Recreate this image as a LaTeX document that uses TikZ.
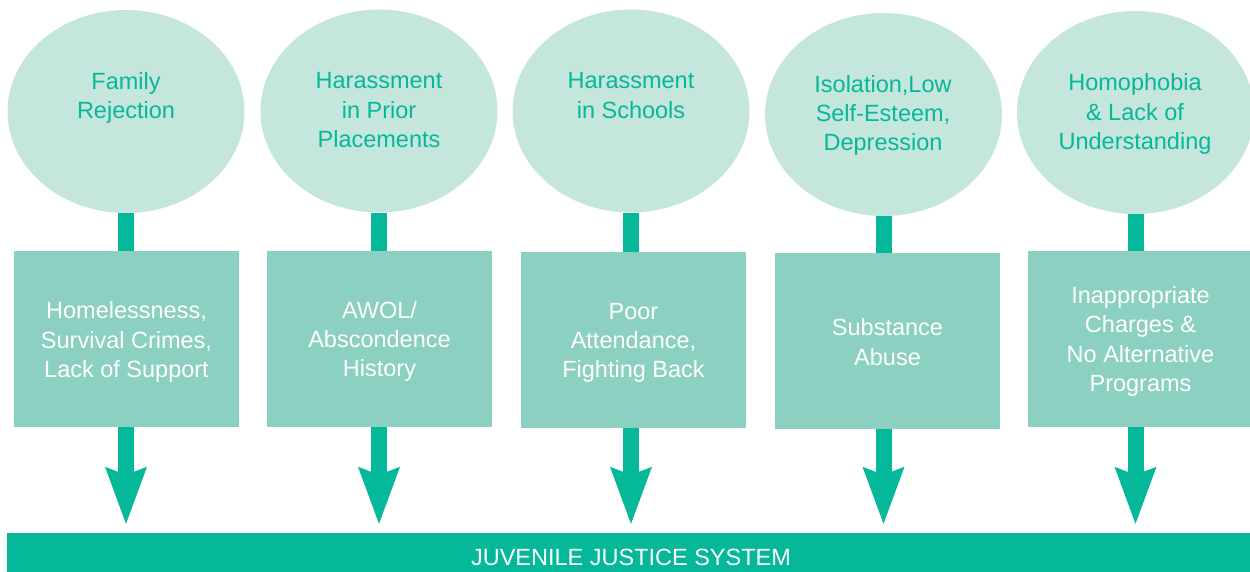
\documentclass[tikz,border=0pt]{standalone}
\usepackage{fontspec}
\setmainfont{Liberation Sans}
\usetikzlibrary{shapes.geometric,arrows.meta}
\definecolor{tealdark}{RGB}{5,184,154}
\definecolor{boxfill}{RGB}{139,208,192}
\definecolor{ellfill}{RGB}{196,230,220}
\begin{document}
\begin{tikzpicture}[x=1pt,y=-1pt,
  bubble/.style={ellipse, fill=ellfill, minimum width=237pt, minimum height=203pt, inner sep=0pt},
  bubtext/.style={anchor=north, align=center, text=tealdark, inner sep=0pt,
    font=\fontsize{23.5}{29.3}\selectfont},
  causebox/.style={rectangle, fill=boxfill, minimum width=225pt, minimum height=176pt,
    inner sep=0pt},
  boxtext/.style={align=center, text=white, inner sep=0pt,
    font=\fontsize{23.5}{29.3}\selectfont},
  barbox/.style={rectangle, fill=tealdark, minimum width=1248pt, minimum height=48pt,
    inner sep=0pt, text=white, font=\fontsize{23.5}{28}\selectfont},
  stemline/.style={draw=tealdark, line width=16pt},
  flowarrow/.style={draw=tealdark, line width=16pt,
    -{Stealth[length=57pt,width=42pt,inset=8pt,line width=0pt]}}
]
\useasboundingbox (0,0) rectangle (1250,571);
\clip (0,0) rectangle (1250,571);

% ellipses
\node[bubble] (e1) at (126,111.5) {};
\node[bubble] (e2) at (379,111) {};
\node[bubble] (e3) at (631,111) {};
\node[bubble] (e4) at (883.5,114.5) {};
\node[bubble] (e5) at (1135.5,112.5) {};

\node[bubtext] (e1t) at (126,72) {Family\\Rejection};
\node[bubtext] (e2t) at (379,72.5) {Harassment\\in Prior\\Placements};
\node[bubtext] (e3t) at (631,72.5) {Harassment\\in Schools};
\node[bubtext] (e4t) at (883,75) {Isolation,Low\\Self-Esteem,\\Depression};
\node[bubtext] (e5t) at (1135,73.5) {Homophobia\\\& Lack of\\Understanding};

% boxes
\node[causebox] (b1) at (126.5,339) {};
\node[causebox] (b2) at (379.5,339) {};
\node[causebox] (b3) at (633.5,340) {};
\node[causebox] (b4) at (887.5,341) {};
\node[causebox] (b5) at (1140.5,339) {};

\node[boxtext] (b1t) at ([yshift=-3pt]b1.center) {Homelessness,\\Survival Crimes,\\Lack of Support};
\node[boxtext] (b2t) at ([yshift=-2.5pt]b2.center) {AWOL/\\Abscondence\\History};
\node[boxtext] (b3t) at ([yshift=-3pt]b3.center) {Poor\\Attendance,\\Fighting Back};
\node[boxtext] (b4t) at ([yshift=-1pt]b4.center) {Substance\\Abuse};
\node[boxtext] (b5t) at ([yshift=-2.5pt]b5.center) {Inappropriate\\Charges \&\\No Alternative\\Programs};

% bar
\node[barbox] (jjs) at (631,557) {JUVENILE JUSTICE SYSTEM};

% stems
\draw[stemline] (e1.south) -- (e1.south |- b1.north);
\draw[stemline] (e2.south) -- (e2.south |- b2.north);
\draw[stemline] (e3.south) -- (e3.south |- b3.north);
\draw[stemline] (e4.south) -- (e4.south |- b4.north);
\draw[stemline] (e5.south) -- (e5.south |- b5.north);

% arrows
\coordinate (t1) at ([yshift=9pt]e1.south |- jjs.north);
\coordinate (t2) at ([yshift=9pt]e2.south |- jjs.north);
\coordinate (t3) at ([yshift=9pt]e3.south |- jjs.north);
\coordinate (t4) at ([yshift=9pt]e4.south |- jjs.north);
\coordinate (t5) at ([yshift=9pt]e5.south |- jjs.north);
\draw[flowarrow] (e1.south |- b1.south) -- (t1);
\draw[flowarrow] (e2.south |- b2.south) -- (t2);
\draw[flowarrow] (e3.south |- b3.south) -- (t3);
\draw[flowarrow] (e4.south |- b4.south) -- (t4);
\draw[flowarrow] (e5.south |- b5.south) -- (t5);
\end{tikzpicture}
\end{document}
